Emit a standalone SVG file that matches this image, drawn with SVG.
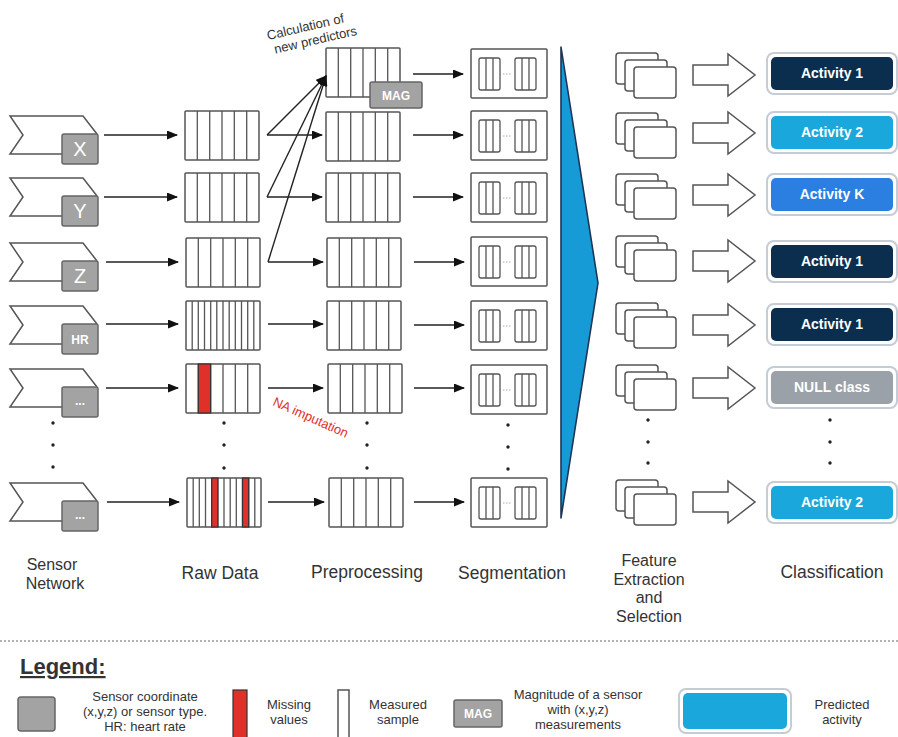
<svg xmlns="http://www.w3.org/2000/svg" width="898" height="737" viewBox="0 0 898 737">
<style>
  text { font-family: "Liberation Sans", Arial, sans-serif; }
  .flag { fill: #fff; stroke: #555; stroke-width: 1.5; }
  .sbox { fill: #a3a3a3; stroke: #666; stroke-width: 1.5; }
  .slbl { fill: #fff; font-size: 20px; text-anchor: middle; }
  .slbls { fill: #fff; font-size: 12px; font-weight: bold; text-anchor: middle; }
  .box { fill: #fff; stroke: #555; stroke-width: 1.5; }
  .col { stroke: #555; stroke-width: 1.3; }
  .red { fill: #e0302a; stroke: #333; stroke-width: 1.2; }
  .inner { fill: #fff; stroke: #555; stroke-width: 1.3; }
  .ell { stroke: #aaa; stroke-width: 1; stroke-dasharray: 1.5,1.5; }
  .conn { stroke: #222; stroke-width: 1.4; fill: none; marker-end: url(#ah); }
  .hollow { fill: #fff; stroke: #555; stroke-width: 1.5; }
  .feat { fill: #fff; stroke: #555; stroke-width: 1.5; }
  .outer { fill: #fff; stroke: #c5ccd6; stroke-width: 2; }
  .act { fill: #fff; font-size: 14px; font-weight: bold; text-anchor: middle; }
  .dot { fill: #222; }
  .lbl { fill: #333; font-size: 17.5px; text-anchor: middle; }
  .lblm { fill: #333; font-size: 16px; text-anchor: middle; }
  .leg { fill: #333; font-size: 13px; text-anchor: middle; }
</style>
<defs>
  <marker id="ah" markerWidth="11" markerHeight="9" refX="10" refY="4.5" orient="auto" markerUnits="userSpaceOnUse">
    <path d="M0,0 L11,4.5 L0,9 z" fill="#111"/>
  </marker>
  <g id="flagshape">
    <path class="flag" d="M62,19 L10,19 L23,0 L10,-19 L83,-19 L97,-1"/>
    <rect class="sbox" x="62" y="-1" width="36" height="30" rx="2"/>
  </g>
  <g id="raw6">
    <rect class="box" x="0" y="0" width="74" height="49" rx="1"/>
    <path class="col" d="M12.3,0 V49 M24.7,0 V49 M37,0 V49 M49.3,0 V49 M61.7,0 V49"/>
  </g>
  <g id="raw12">
    <rect class="box" x="0" y="0" width="74" height="49" rx="1"/>
    <path class="col" d="M6.2,0 V49 M12.3,0 V49 M18.5,0 V49 M24.7,0 V49 M30.8,0 V49 M37,0 V49 M43.2,0 V49 M49.3,0 V49 M55.5,0 V49 M61.7,0 V49 M67.8,0 V49"/>
  </g>
  <g id="seg">
    <rect class="box" x="0" y="0" width="76" height="49" rx="1"/>
    <rect class="inner" x="8" y="9" width="21" height="32" rx="2"/>
    <path class="col" d="M15,9 V41 M22,9 V41"/>
    <rect class="inner" x="44" y="9" width="21" height="32" rx="2"/>
    <path class="col" d="M51,9 V41 M58,9 V41"/>
    <path class="ell" d="M32,25 H41"/>
  </g>
  <g id="feat">
    <rect class="feat" x="616" y="-22" width="42" height="31" rx="3"/>
    <rect class="feat" x="625" y="-15" width="42" height="31" rx="3"/>
    <rect class="feat" x="634" y="-8" width="42" height="31" rx="3"/>
  </g>
  <path id="harrow" class="hollow" d="M693,-10 L728,-10 L728,-21 L755,0 L728,21 L728,10 L693,10 Z"/>
</defs>

<!-- Sensor network -->
<g id="sensor-x" transform="translate(0,135)"><use href="#flagshape"/><text class="slbl" x="80" y="21">X</text></g>
<g id="sensor-y" transform="translate(0,197)"><use href="#flagshape"/><text class="slbl" x="80" y="21">Y</text></g>
<g id="sensor-z" transform="translate(0,262)"><use href="#flagshape"/><text class="slbl" x="80" y="21">Z</text></g>
<g id="sensor-hr" transform="translate(0,325)"><use href="#flagshape"/><text class="slbls" x="80" y="19">HR</text></g>
<g id="sensor-other" transform="translate(0,388)"><use href="#flagshape"/><text class="slbls" x="80" y="17" font-size="10">...</text></g>
<g id="sensor-last" transform="translate(0,502)"><use href="#flagshape"/><text class="slbls" x="80" y="17" font-size="10">...</text></g>
<g id="sensor-dots"><circle class="dot" cx="53" cy="423" r="1.7"/><circle class="dot" cx="53" cy="445" r="1.7"/><circle class="dot" cx="53" cy="467" r="1.7"/></g>

<!-- Raw data -->
<g id="raw-x"><use href="#raw6" x="185" y="111"/></g>
<g id="raw-y"><use href="#raw6" x="185" y="173"/></g>
<g id="raw-z"><use href="#raw6" x="186" y="238"/></g>
<g id="raw-hr"><use href="#raw12" x="186" y="301"/></g>
<g id="raw-other"><use href="#raw6" x="186" y="364"/><rect class="red" x="198.3" y="364" width="12.3" height="49"/></g>
<g id="raw-last"><use href="#raw12" x="187" y="478"/><rect class="red" x="211.7" y="478" width="6.2" height="49"/><rect class="red" x="242.5" y="478" width="6.2" height="49"/></g>
<g id="raw-dots"><circle class="dot" cx="224" cy="423" r="1.7"/><circle class="dot" cx="224" cy="445" r="1.7"/><circle class="dot" cx="224" cy="468" r="1.7"/></g>

<!-- Preprocessing -->
<g id="pre-mag"><use href="#raw6" x="326" y="48"/><rect class="sbox" x="370" y="82" width="52" height="26" rx="2"/><text class="slbls" x="396" y="100" font-size="13">MAG</text></g>
<g id="pre-x"><use href="#raw6" x="326" y="112"/></g>
<g id="pre-y"><use href="#raw6" x="326" y="173"/></g>
<g id="pre-z"><use href="#raw6" x="327" y="238"/></g>
<g id="pre-hr"><use href="#raw6" x="327" y="301"/></g>
<g id="pre-other"><use href="#raw6" x="328" y="364"/></g>
<g id="pre-last"><use href="#raw6" x="329" y="478"/></g>
<g id="pre-dots"><circle class="dot" cx="367" cy="423" r="1.7"/><circle class="dot" cx="367" cy="445" r="1.7"/><circle class="dot" cx="367" cy="468" r="1.7"/></g>
<text id="calc-label" x="268" y="40" fill="#333" font-size="13" transform="rotate(-13 268 40)">Calculation of<tspan x="272" dy="15">new predictors</tspan></text>
<text id="na-label" x="272" y="405" fill="#e0302a" font-size="13" transform="rotate(24 272 405)">NA imputation</text>

<!-- Segmentation -->
<g id="seg-mag"><use href="#seg" x="471" y="49"/></g>
<g id="seg-x"><use href="#seg" x="471" y="111"/></g>
<g id="seg-y"><use href="#seg" x="471" y="173"/></g>
<g id="seg-z"><use href="#seg" x="471" y="237"/></g>
<g id="seg-hr"><use href="#seg" x="471" y="301"/></g>
<g id="seg-other"><use href="#seg" x="471" y="365"/></g>
<g id="seg-last"><use href="#seg" x="471" y="478"/></g>
<g id="seg-dots"><circle class="dot" cx="508" cy="425" r="1.7"/><circle class="dot" cx="508" cy="447" r="1.7"/><circle class="dot" cx="508" cy="469" r="1.7"/></g>

<!-- Funnel -->
<g id="funnel"><polygon points="561,47 598,283 561,518" fill="#179bd7" stroke="#1e3554" stroke-width="1.6" stroke-linejoin="round"/></g>

<!-- Feature extraction -->
<g id="feat-1" transform="translate(0,75)"><use href="#feat"/></g>
<g id="feat-2" transform="translate(0,135)"><use href="#feat"/></g>
<g id="feat-3" transform="translate(0,196)"><use href="#feat"/></g>
<g id="feat-4" transform="translate(0,258)"><use href="#feat"/></g>
<g id="feat-5" transform="translate(0,325)"><use href="#feat"/></g>
<g id="feat-6" transform="translate(0,387)"><use href="#feat"/></g>
<g id="feat-7" transform="translate(0,502)"><use href="#feat"/></g>
<g id="feat-dots"><circle class="dot" cx="648" cy="420" r="1.7"/><circle class="dot" cx="648" cy="442" r="1.7"/><circle class="dot" cx="648" cy="463" r="1.7"/></g>

<!-- Classification -->
<g id="act-1a"><rect class="outer" x="767" y="53" width="130" height="41" rx="7"/><rect x="771" y="57" width="122" height="33" rx="5" fill="#0c2e4e"/><text class="act" x="832" y="78">Activity 1</text></g>
<g id="act-2a"><rect class="outer" x="767" y="112" width="130" height="41" rx="7"/><rect x="771" y="116" width="122" height="33" rx="5" fill="#1aa7dc"/><text class="act" x="832" y="137">Activity 2</text></g>
<g id="act-k"><rect class="outer" x="767" y="174" width="130" height="41" rx="7"/><rect x="771" y="178" width="122" height="33" rx="5" fill="#2b7fe0"/><text class="act" x="832" y="199">Activity K</text></g>
<g id="act-1b"><rect class="outer" x="767" y="241" width="130" height="41" rx="7"/><rect x="771" y="245" width="122" height="33" rx="5" fill="#0c2e4e"/><text class="act" x="832" y="266">Activity 1</text></g>
<g id="act-1c"><rect class="outer" x="767" y="304" width="130" height="41" rx="7"/><rect x="771" y="308" width="122" height="33" rx="5" fill="#0c2e4e"/><text class="act" x="832" y="329">Activity 1</text></g>
<g id="act-null"><rect class="outer" x="767" y="367" width="130" height="41" rx="7"/><rect x="771" y="371" width="122" height="33" rx="5" fill="#9ba1a8"/><text class="act" x="832" y="392" fill="#eceef0">NULL class</text></g>
<g id="act-2b"><rect class="outer" x="767" y="482" width="130" height="41" rx="7"/><rect x="771" y="486" width="122" height="33" rx="5" fill="#1aa7dc"/><text class="act" x="832" y="507">Activity 2</text></g>
<g id="act-dots"><circle class="dot" cx="830" cy="420" r="1.7"/><circle class="dot" cx="830" cy="442" r="1.7"/><circle class="dot" cx="830" cy="463" r="1.7"/></g>

<!-- Connectors -->
<g id="connectors">
  <line class="conn" x1="104" y1="135" x2="177" y2="135"/>
  <line class="conn" x1="104" y1="197" x2="177" y2="197"/>
  <line class="conn" x1="106" y1="262" x2="178" y2="262"/>
  <line class="conn" x1="106" y1="324" x2="178" y2="324"/>
  <line class="conn" x1="106" y1="388" x2="178" y2="388"/>
  <line class="conn" x1="107" y1="502" x2="179" y2="502"/>

  <line class="conn" x1="267" y1="135" x2="322" y2="135"/>
  <line class="conn" x1="267" y1="197" x2="322" y2="197"/>
  <line class="conn" x1="268" y1="262" x2="323" y2="262"/>
  <line class="conn" x1="268" y1="324" x2="323" y2="324"/>
  <line class="conn" x1="268" y1="388" x2="323" y2="388"/>
  <line class="conn" x1="268" y1="502" x2="324" y2="502"/>

  <line class="conn" x1="267" y1="135" x2="326" y2="76"/>
  <line class="conn" x1="267" y1="197" x2="326" y2="76"/>
  <line class="conn" x1="268" y1="262" x2="326" y2="76"/>

  <line class="conn" x1="413" y1="74" x2="463" y2="74"/>
  <line class="conn" x1="413" y1="135" x2="463" y2="135"/>
  <line class="conn" x1="413" y1="197" x2="463" y2="197"/>
  <line class="conn" x1="414" y1="262" x2="464" y2="262"/>
  <line class="conn" x1="414" y1="325" x2="464" y2="325"/>
  <line class="conn" x1="414" y1="388" x2="464" y2="388"/>
  <line class="conn" x1="414" y1="502" x2="464" y2="502"/>

  <use href="#harrow" y="75"/>
  <use href="#harrow" y="133"/>
  <use href="#harrow" y="195"/>
  <use href="#harrow" y="261"/>
  <use href="#harrow" y="325"/>
  <use href="#harrow" y="388"/>
  <use href="#harrow" y="502"/>
</g>

<!-- Stage labels -->
<g id="stage-labels">
  <text class="lblm" x="52" y="570">Sensor<tspan x="55" dy="19">Network</tspan></text>
  <text class="lbl" x="220" y="579">Raw Data</text>
  <text class="lbl" x="367" y="578">Preprocessing</text>
  <text class="lbl" x="512" y="579">Segmentation</text>
  <text class="lblm" x="649" y="566">Feature<tspan x="649" dy="18.5">Extraction</tspan><tspan x="649" dy="18.5">and</tspan><tspan x="649" dy="18.5">Selection</tspan></text>
  <text class="lbl" x="832" y="578">Classification</text>
</g>

<line x1="0" y1="641" x2="898" y2="641" stroke="#999" stroke-width="1.3" stroke-dasharray="2,2"/>

<!-- Legend -->
<g id="legend">
  <text x="20" y="674" font-size="22" font-weight="bold" fill="#333" text-decoration="underline">Legend:</text>
  <rect class="sbox" x="18" y="697" width="37" height="34" rx="3"/>
  <text class="leg" x="145" y="701">Sensor coordinate<tspan x="145" dy="15">(x,y,z) or sensor type.</tspan><tspan x="145" dy="15">HR: heart rate</tspan></text>
  <rect class="red" x="233" y="690" width="14" height="50"/>
  <text class="leg" x="289" y="709">Missing<tspan x="289" dy="15">values</tspan></text>
  <rect class="box" x="338" y="690" width="11" height="50"/>
  <text class="leg" x="398" y="709">Measured<tspan x="398" dy="15">sample</tspan></text>
  <rect class="sbox" x="454" y="700" width="48" height="27" rx="2"/>
  <text class="slbls" x="478" y="718" font-size="13">MAG</text>
  <text class="leg" x="578" y="699">Magnitude of a sensor<tspan x="578" dy="15">with (x,y,z)</tspan><tspan x="578" dy="15">measurements</tspan></text>
  <rect class="outer" x="679" y="689" width="112" height="44" rx="7"/>
  <rect x="683" y="693" width="104" height="36" rx="5" fill="#1aa7dc"/>
  <text class="leg" x="842" y="709">Predicted<tspan x="842" dy="15">activity</tspan></text>
</g>
</svg>
